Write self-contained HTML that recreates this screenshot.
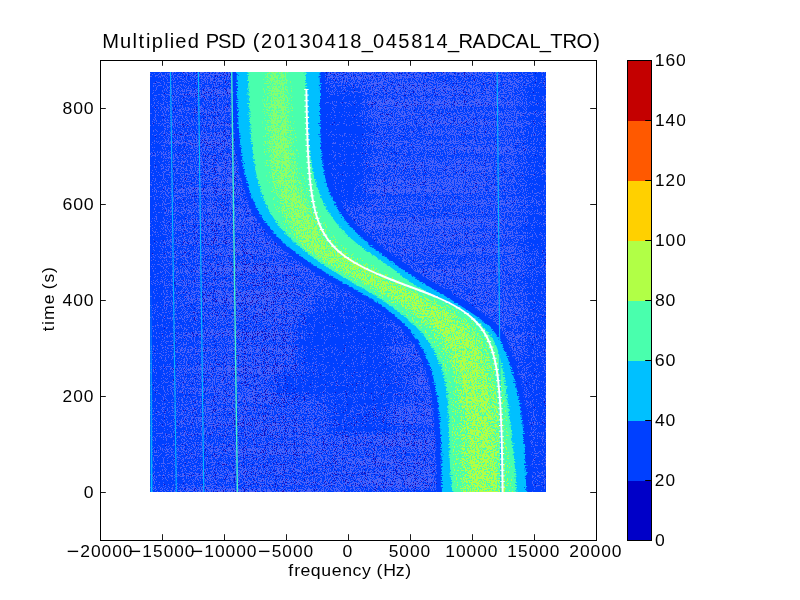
<!DOCTYPE html>
<html><head><meta charset="utf-8"><style>
html,body{margin:0;padding:0;background:#fff;}
body{width:800px;height:600px;overflow:hidden;position:relative;font-family:"Liberation Sans",sans-serif;}
svg{position:absolute;left:0;top:0;display:block;}
</style></head><body>
<svg width="800" height="600" viewBox="0 0 800 600">
<defs><clipPath id="hmclip"><rect x="150" y="72" width="396" height="420"/></clipPath><filter id="nY" x="140" y="60" width="420" height="440" filterUnits="userSpaceOnUse" color-interpolation-filters="sRGB"><feTurbulence type="fractalNoise" baseFrequency="0.9 0.6" numOctaves="2" seed="7"/><feColorMatrix type="matrix" values="0 0 0 0 0.694  0 0 0 0 1.000  0 0 0 0 0.275  4.00 0 0 0 -2.00"/><feComponentTransfer><feFuncA type="discrete" tableValues="0 1"/></feComponentTransfer></filter><filter id="nY2" x="140" y="60" width="420" height="440" filterUnits="userSpaceOnUse" color-interpolation-filters="sRGB"><feTurbulence type="fractalNoise" baseFrequency="0.9 0.6" numOctaves="2" seed="11"/><feColorMatrix type="matrix" values="0 0 0 0 0.694  0 0 0 0 1.000  0 0 0 0 0.275  4.00 0 0 0 -1.70"/><feComponentTransfer><feFuncA type="discrete" tableValues="0 1"/></feComponentTransfer></filter><filter id="nY3" x="140" y="60" width="420" height="440" filterUnits="userSpaceOnUse" color-interpolation-filters="sRGB"><feTurbulence type="fractalNoise" baseFrequency="0.9 0.6" numOctaves="2" seed="13"/><feColorMatrix type="matrix" values="0 0 0 0 0.694  0 0 0 0 1.000  0 0 0 0 0.275  4.00 0 0 0 -1.55"/><feComponentTransfer><feFuncA type="discrete" tableValues="0 1"/></feComponentTransfer></filter><filter id="dL" x="140" y="60" width="420" height="440" filterUnits="userSpaceOnUse" color-interpolation-filters="sRGB"><feGaussianBlur in="SourceGraphic" stdDeviation="7.0" result="d"/><feTurbulence type="fractalNoise" baseFrequency="0.9 0.9" numOctaves="1" seed="4"/><feColorMatrix type="matrix" values="1 0 0 0 0  1 0 0 0 0  1 0 0 0 0  0 0 0 0 1" result="a"/><feTurbulence type="fractalNoise" baseFrequency="0.006 0.15" numOctaves="2" seed="8"/><feColorMatrix type="matrix" values="1 0 0 0 0  1 0 0 0 0  1 0 0 0 0  0 0 0 0 1" result="s"/><feComposite in="a" in2="s" operator="arithmetic" k1="0" k2="1" k3="0.200" k4="-0.100" result="as"/><feComposite in="as" in2="d" operator="arithmetic" k1="0" k2="1" k3="0.250" k4="-0.250"/><feColorMatrix type="matrix" values="0 0 0 0 0.290  0 0 0 0 0.384  0 0 0 0 0.973  4 0 0 0 -1.380"/><feComponentTransfer><feFuncA type="discrete" tableValues="0 1"/></feComponentTransfer></filter><filter id="dD" x="140" y="60" width="420" height="440" filterUnits="userSpaceOnUse" color-interpolation-filters="sRGB"><feGaussianBlur in="SourceGraphic" stdDeviation="7.0" result="d"/><feTurbulence type="fractalNoise" baseFrequency="0.9 0.9" numOctaves="1" seed="9"/><feColorMatrix type="matrix" values="1 0 0 0 0  1 0 0 0 0  1 0 0 0 0  0 0 0 0 1" result="a"/><feTurbulence type="fractalNoise" baseFrequency="0.006 0.15" numOctaves="2" seed="8"/><feColorMatrix type="matrix" values="1 0 0 0 0  1 0 0 0 0  1 0 0 0 0  0 0 0 0 1" result="s"/><feComposite in="a" in2="s" operator="arithmetic" k1="0" k2="1" k3="0.150" k4="-0.075" result="as"/><feComposite in="as" in2="d" operator="arithmetic" k1="0" k2="1" k3="0.130" k4="-0.130"/><feColorMatrix type="matrix" values="0 0 0 0 0.098  0 0 0 0 0.059  0 0 0 0 0.725  4 0 0 0 -2.050"/><feComponentTransfer><feFuncA type="discrete" tableValues="0 1"/></feComponentTransfer></filter><filter id="blur8" x="-50%" y="-50%" width="200%" height="200%"><feGaussianBlur stdDeviation="7"/></filter><filter id="jag" x="140" y="60" width="420" height="440" filterUnits="userSpaceOnUse" color-interpolation-filters="sRGB"><feTurbulence type="fractalNoise" baseFrequency="0.35 0.9" numOctaves="2" seed="5"/><feColorMatrix type="matrix" values="1 0 0 0 0  0 0 0 0 0.5  0 0 0 0 0  0 0 0 0 1"/><feGaussianBlur stdDeviation="0.01"/><feDisplacementMap in="SourceGraphic" scale="6" xChannelSelector="R" yChannelSelector="G"/></filter><linearGradient id="ygrad" gradientUnits="userSpaceOnUse" x1="0" y1="72" x2="0" y2="492"><stop offset="0" stop-color="#8c8c8c"/><stop offset="0.3" stop-color="#c0c0c0"/><stop offset="0.55" stop-color="#ffffff"/><stop offset="1" stop-color="#ffffff"/></linearGradient><mask id="ymask" maskUnits="userSpaceOnUse" x="140" y="60" width="420" height="440"><rect x="140" y="60" width="420" height="440" fill="url(#ygrad)"/></mask><clipPath id="yc0"><path d="M262.9 60.0 L262.8 62.0 L262.8 64.0 L262.8 66.0 L262.8 68.0 L262.8 70.0 L262.8 72.0 L262.8 74.0 L262.8 76.0 L262.8 78.0 L262.7 80.0 L262.7 82.0 L262.7 84.0 L262.7 86.0 L262.6 88.0 L262.6 90.0 L262.6 92.0 L262.6 94.0 L262.5 96.0 L262.5 98.0 L262.5 100.0 L262.5 102.0 L262.5 104.0 L262.5 106.0 L262.4 108.0 L262.4 110.0 L262.4 112.0 L262.4 114.0 L262.4 116.0 L262.4 118.0 L262.5 120.0 L262.5 122.0 L262.5 124.0 L262.5 126.0 L262.6 128.0 L262.6 130.0 L262.6 132.0 L262.7 134.0 L262.8 136.0 L262.8 138.0 L262.9 140.0 L263.0 142.0 L263.1 144.0 L263.2 146.0 L263.3 148.0 L263.4 150.0 L263.6 152.0 L263.7 154.0 L263.9 156.0 L264.1 158.0 L264.3 160.0 L264.5 162.0 L264.7 164.0 L265.0 166.0 L265.2 168.0 L265.5 170.0 L265.8 172.0 L266.2 174.0 L266.5 176.0 L266.9 178.0 L267.3 180.0 L267.7 182.0 L268.1 184.0 L268.6 186.0 L269.1 188.0 L269.6 190.0 L270.2 192.0 L270.7 194.0 L271.3 196.0 L271.9 198.0 L272.6 200.0 L273.3 202.0 L273.9 204.0 L274.6 206.0 L275.4 208.0 L276.1 210.0 L276.9 212.0 L277.6 214.0 L278.4 216.0 L279.2 218.0 L280.0 220.0 L280.8 222.0 L281.6 224.0 L282.5 226.0 L283.8 228.0 L285.5 230.0 L287.2 232.0 L289.0 234.0 L290.9 236.0 L292.9 238.0 L294.9 240.0 L297.0 242.0 L299.2 244.0 L301.5 246.0 L303.9 248.0 L306.3 250.0 L308.9 252.0 L311.5 254.0 L314.2 256.0 L316.9 258.0 L319.8 260.0 L322.7 262.0 L325.6 264.0 L328.6 266.0 L331.7 268.0 L334.8 270.0 L338.0 272.0 L341.2 274.0 L344.4 276.0 L347.6 278.0 L350.9 280.0 L354.3 282.0 L357.8 284.0 L361.4 286.0 L364.9 288.0 L368.4 290.0 L371.8 292.0 L375.2 294.0 L378.5 296.0 L381.8 298.0 L385.0 300.0 L388.1 302.0 L391.1 304.0 L394.0 306.0 L396.8 308.0 L399.5 310.0 L402.1 312.0 L404.6 314.0 L407.1 316.0 L409.5 318.0 L411.8 320.0 L414.0 322.0 L416.1 324.0 L418.2 326.0 L420.1 328.0 L422.0 330.0 L423.8 332.0 L425.5 334.0 L427.1 336.0 L428.7 338.0 L430.2 340.0 L431.6 342.0 L432.9 344.0 L434.2 346.0 L435.5 348.0 L436.6 350.0 L437.7 352.0 L438.7 354.0 L439.7 356.0 L440.6 358.0 L441.5 360.0 L442.3 362.0 L443.1 364.0 L443.8 366.0 L444.5 368.0 L445.1 370.0 L445.7 372.0 L446.2 374.0 L446.7 376.0 L447.2 378.0 L447.7 380.0 L448.1 382.0 L448.4 384.0 L448.8 386.0 L449.1 388.0 L449.4 390.0 L449.7 392.0 L449.9 394.0 L450.2 396.0 L450.4 398.0 L450.6 400.0 L450.7 402.0 L450.9 404.0 L451.0 406.0 L451.2 408.0 L451.3 410.0 L451.4 412.0 L451.5 414.0 L451.6 416.0 L451.7 418.0 L451.7 420.0 L451.8 422.0 L451.8 424.0 L451.9 426.0 L451.9 428.0 L452.0 430.0 L452.0 432.0 L452.1 434.0 L452.1 436.0 L452.1 438.0 L452.2 440.0 L452.2 442.0 L452.3 444.0 L452.3 446.0 L452.3 448.0 L452.4 450.0 L452.5 452.0 L452.5 454.0 L452.6 456.0 L452.7 458.0 L452.7 460.0 L452.8 462.0 L452.9 464.0 L453.0 466.0 L453.1 468.0 L453.3 470.0 L453.4 472.0 L453.5 474.0 L453.7 476.0 L453.9 478.0 L454.1 480.0 L454.3 482.0 L454.5 484.0 L454.7 486.0 L454.9 488.0 L455.2 490.0 L455.5 492.0 L455.4 494.0 L455.4 496.0 L455.4 498.0 L455.3 500.0 L455.3 502.0 L455.3 504.0 L513.2 504.0 L513.3 502.0 L513.3 500.0 L513.3 498.0 L513.3 496.0 L513.3 494.0 L513.3 492.0 L513.3 490.0 L513.2 488.0 L513.1 486.0 L513.0 484.0 L512.9 482.0 L512.8 480.0 L512.6 478.0 L512.5 476.0 L512.4 474.0 L512.2 472.0 L512.1 470.0 L511.9 468.0 L511.8 466.0 L511.6 464.0 L511.4 462.0 L511.2 460.0 L511.1 458.0 L510.9 456.0 L510.7 454.0 L510.5 452.0 L510.3 450.0 L510.1 448.0 L509.9 446.0 L509.7 444.0 L509.4 442.0 L509.2 440.0 L509.0 438.0 L508.8 436.0 L508.6 434.0 L508.3 432.0 L508.1 430.0 L507.9 428.0 L507.6 426.0 L507.4 424.0 L507.2 422.0 L506.9 420.0 L506.7 418.0 L506.5 416.0 L506.2 414.0 L506.0 412.0 L505.7 410.0 L505.5 408.0 L505.2 406.0 L505.0 404.0 L504.7 402.0 L504.4 400.0 L504.2 398.0 L503.9 396.0 L503.6 394.0 L503.3 392.0 L503.1 390.0 L502.8 388.0 L502.5 386.0 L502.2 384.0 L501.9 382.0 L501.6 380.0 L501.2 378.0 L500.9 376.0 L500.5 374.0 L500.2 372.0 L499.8 370.0 L499.4 368.0 L499.0 366.0 L498.6 364.0 L498.1 362.0 L497.7 360.0 L497.2 358.0 L496.7 356.0 L496.1 354.0 L495.5 352.0 L494.8 350.0 L494.1 348.0 L493.3 346.0 L492.4 344.0 L491.4 342.0 L490.4 340.0 L489.2 338.0 L487.9 336.0 L486.4 334.0 L484.9 332.0 L483.1 330.0 L481.3 328.0 L479.2 326.0 L477.0 324.0 L474.6 322.0 L472.0 320.0 L469.3 318.0 L466.4 316.0 L463.2 314.0 L460.0 312.0 L456.6 310.0 L453.1 308.0 L449.5 306.0 L445.8 304.0 L442.0 302.0 L438.1 300.0 L434.2 298.0 L430.3 296.0 L426.3 294.0 L422.3 292.0 L418.3 290.0 L414.3 288.0 L410.3 286.0 L406.3 284.0 L402.3 282.0 L398.7 280.0 L395.5 278.0 L392.2 276.0 L388.9 274.0 L385.5 272.0 L382.0 270.0 L378.4 268.0 L374.8 266.0 L371.2 264.0 L367.6 262.0 L364.1 260.0 L360.6 258.0 L357.4 256.0 L354.2 254.0 L351.3 252.0 L348.5 250.0 L345.9 248.0 L343.5 246.0 L341.3 244.0 L339.2 242.0 L337.3 240.0 L335.6 238.0 L333.9 236.0 L332.4 234.0 L331.0 232.0 L329.6 230.0 L328.3 228.0 L327.1 226.0 L325.9 224.0 L324.8 222.0 L323.6 220.0 L322.5 218.0 L321.4 216.0 L320.3 214.0 L319.3 212.0 L318.3 210.0 L317.2 208.0 L316.2 206.0 L315.2 204.0 L314.3 202.0 L313.3 200.0 L312.4 198.0 L311.6 196.0 L310.7 194.0 L309.9 192.0 L309.1 190.0 L308.3 188.0 L307.6 186.0 L306.9 184.0 L306.2 182.0 L305.5 180.0 L304.9 178.0 L304.3 176.0 L303.7 174.0 L303.2 172.0 L302.6 170.0 L302.1 168.0 L301.6 166.0 L301.2 164.0 L300.7 162.0 L300.3 160.0 L299.9 158.0 L299.5 156.0 L299.1 154.0 L298.8 152.0 L298.4 150.0 L298.1 148.0 L297.8 146.0 L297.5 144.0 L297.2 142.0 L296.9 140.0 L296.6 138.0 L296.4 136.0 L296.1 134.0 L295.9 132.0 L295.6 130.0 L295.4 128.0 L295.2 126.0 L295.0 124.0 L294.8 122.0 L294.6 120.0 L294.4 118.0 L294.2 116.0 L294.0 114.0 L293.8 112.0 L293.6 110.0 L293.5 108.0 L293.3 106.0 L293.1 104.0 L293.0 102.0 L292.8 100.0 L292.6 98.0 L292.5 96.0 L292.3 94.0 L292.1 92.0 L292.0 90.0 L291.8 88.0 L291.7 86.0 L291.5 84.0 L291.3 82.0 L291.2 80.0 L291.0 78.0 L290.8 76.0 L290.7 74.0 L290.5 72.0 L290.5 70.0 L290.5 68.0 L290.4 66.0 L290.4 64.0 L290.4 62.0 L290.4 60.0 Z"/></clipPath><clipPath id="yc1"><path d="M266.9 60.0 L266.9 62.0 L266.9 64.0 L266.9 66.0 L266.9 68.0 L266.9 70.0 L266.9 72.0 L266.9 74.0 L266.9 76.0 L266.9 78.0 L266.9 80.0 L266.9 82.0 L266.9 84.0 L266.9 86.0 L266.9 88.0 L266.9 90.0 L266.9 92.0 L266.9 94.0 L266.9 96.0 L267.0 98.0 L267.0 100.0 L267.0 102.0 L267.0 104.0 L267.0 106.0 L267.0 108.0 L267.0 110.0 L267.0 112.0 L267.1 114.0 L267.1 116.0 L267.1 118.0 L267.2 120.0 L267.2 122.0 L267.3 124.0 L267.3 126.0 L267.4 128.0 L267.5 130.0 L267.5 132.0 L267.6 134.0 L267.7 136.0 L267.8 138.0 L267.9 140.0 L268.0 142.0 L268.1 144.0 L268.3 146.0 L268.4 148.0 L268.6 150.0 L268.8 152.0 L268.9 154.0 L269.1 156.0 L269.4 158.0 L269.6 160.0 L269.8 162.0 L270.1 164.0 L270.4 166.0 L270.7 168.0 L271.0 170.0 L271.3 172.0 L271.7 174.0 L272.1 176.0 L272.5 178.0 L272.9 180.0 L273.3 182.0 L273.8 184.0 L274.3 186.0 L274.9 188.0 L275.4 190.0 L276.0 192.0 L276.6 194.0 L277.2 196.0 L277.9 198.0 L278.6 200.0 L279.3 202.0 L280.0 204.0 L280.8 206.0 L281.5 208.0 L282.3 210.0 L283.1 212.0 L283.9 214.0 L284.7 216.0 L285.5 218.0 L286.4 220.0 L287.3 222.0 L288.1 224.0 L289.1 226.0 L290.0 228.0 L291.0 230.0 L292.0 232.0 L293.2 234.0 L294.4 236.0 L295.7 238.0 L297.1 240.0 L298.7 242.0 L300.4 244.0 L302.3 246.0 L304.3 248.0 L306.5 250.0 L309.0 252.0 L311.6 254.0 L314.3 256.0 L317.3 258.0 L320.4 260.0 L323.7 262.0 L327.1 264.0 L330.6 266.0 L334.2 268.0 L337.9 270.0 L341.5 272.0 L345.2 274.0 L348.9 276.0 L352.5 278.0 L356.1 280.0 L359.9 282.0 L363.8 284.0 L367.7 286.0 L371.5 288.0 L375.3 290.0 L379.0 292.0 L382.5 294.0 L386.1 296.0 L389.5 298.0 L392.8 300.0 L396.0 302.0 L399.1 304.0 L402.2 306.0 L405.1 308.0 L407.9 310.0 L410.6 312.0 L413.3 314.0 L415.8 316.0 L418.2 318.0 L420.5 320.0 L422.7 322.0 L424.9 324.0 L427.0 326.0 L428.9 328.0 L430.8 330.0 L432.6 332.0 L434.3 334.0 L435.9 336.0 L437.4 338.0 L438.8 340.0 L440.2 342.0 L441.5 344.0 L442.7 346.0 L443.8 348.0 L444.9 350.0 L445.9 352.0 L446.9 354.0 L447.8 356.0 L448.7 358.0 L449.5 360.0 L450.2 362.0 L450.9 364.0 L451.6 366.0 L452.2 368.0 L452.8 370.0 L453.3 372.0 L453.9 374.0 L454.3 376.0 L454.8 378.0 L455.2 380.0 L455.6 382.0 L456.0 384.0 L456.3 386.0 L456.6 388.0 L456.9 390.0 L457.2 392.0 L457.4 394.0 L457.7 396.0 L457.9 398.0 L458.1 400.0 L458.3 402.0 L458.5 404.0 L458.6 406.0 L458.8 408.0 L458.9 410.0 L459.1 412.0 L459.2 414.0 L459.3 416.0 L459.4 418.0 L459.5 420.0 L459.6 422.0 L459.7 424.0 L459.8 426.0 L459.8 428.0 L459.9 430.0 L460.0 432.0 L460.1 434.0 L460.1 436.0 L460.2 438.0 L460.3 440.0 L460.3 442.0 L460.4 444.0 L460.5 446.0 L460.6 448.0 L460.6 450.0 L460.7 452.0 L460.8 454.0 L460.9 456.0 L461.0 458.0 L461.1 460.0 L461.2 462.0 L461.3 464.0 L461.4 466.0 L461.5 468.0 L461.7 470.0 L461.8 472.0 L462.0 474.0 L462.1 476.0 L462.3 478.0 L462.4 480.0 L462.6 482.0 L462.8 484.0 L463.0 486.0 L463.2 488.0 L463.5 490.0 L463.7 492.0 L463.7 494.0 L463.6 496.0 L463.6 498.0 L463.6 500.0 L463.6 502.0 L463.5 504.0 L505.0 504.0 L505.0 502.0 L505.0 500.0 L505.0 498.0 L505.1 496.0 L505.1 494.0 L505.1 492.0 L505.0 490.0 L504.9 488.0 L504.7 486.0 L504.6 484.0 L504.5 482.0 L504.4 480.0 L504.2 478.0 L504.1 476.0 L504.0 474.0 L503.8 472.0 L503.7 470.0 L503.5 468.0 L503.4 466.0 L503.2 464.0 L503.0 462.0 L502.9 460.0 L502.7 458.0 L502.6 456.0 L502.4 454.0 L502.2 452.0 L502.0 450.0 L501.9 448.0 L501.7 446.0 L501.5 444.0 L501.3 442.0 L501.1 440.0 L500.9 438.0 L500.8 436.0 L500.6 434.0 L500.4 432.0 L500.2 430.0 L500.0 428.0 L499.8 426.0 L499.6 424.0 L499.4 422.0 L499.2 420.0 L499.0 418.0 L498.7 416.0 L498.5 414.0 L498.3 412.0 L498.1 410.0 L497.9 408.0 L497.6 406.0 L497.4 404.0 L497.1 402.0 L496.9 400.0 L496.6 398.0 L496.4 396.0 L496.1 394.0 L495.8 392.0 L495.6 390.0 L495.3 388.0 L495.0 386.0 L494.7 384.0 L494.3 382.0 L494.0 380.0 L493.7 378.0 L493.3 376.0 L492.9 374.0 L492.5 372.0 L492.1 370.0 L491.7 368.0 L491.2 366.0 L490.8 364.0 L490.3 362.0 L489.7 360.0 L489.2 358.0 L488.6 356.0 L488.0 354.0 L487.3 352.0 L486.5 350.0 L485.7 348.0 L484.9 346.0 L483.9 344.0 L482.9 342.0 L481.7 340.0 L480.5 338.0 L479.1 336.0 L477.7 334.0 L476.1 332.0 L474.3 330.0 L472.4 328.0 L470.4 326.0 L468.2 324.0 L465.9 322.0 L463.3 320.0 L460.5 318.0 L457.6 316.0 L454.6 314.0 L451.5 312.0 L448.2 310.0 L444.8 308.0 L441.3 306.0 L437.7 304.0 L434.1 302.0 L430.3 300.0 L426.5 298.0 L422.7 296.0 L418.8 294.0 L414.8 292.0 L410.9 290.0 L406.9 288.0 L403.0 286.0 L399.0 284.0 L395.0 282.0 L391.4 280.0 L388.1 278.0 L384.8 276.0 L381.4 274.0 L377.9 272.0 L374.4 270.0 L370.8 268.0 L367.2 266.0 L363.6 264.0 L360.0 262.0 L356.5 260.0 L353.2 258.0 L349.9 256.0 L346.9 254.0 L344.0 252.0 L341.2 250.0 L338.7 248.0 L336.4 246.0 L334.2 244.0 L332.2 242.0 L330.4 240.0 L328.7 238.0 L327.1 236.0 L325.6 234.0 L324.3 232.0 L323.0 230.0 L321.7 228.0 L320.5 226.0 L319.4 224.0 L318.3 222.0 L317.2 220.0 L316.1 218.0 L315.1 216.0 L314.1 214.0 L313.0 212.0 L312.1 210.0 L311.1 208.0 L310.1 206.0 L309.2 204.0 L308.3 202.0 L307.4 200.0 L306.5 198.0 L305.6 196.0 L304.8 194.0 L304.0 192.0 L303.3 190.0 L302.5 188.0 L301.8 186.0 L301.2 184.0 L300.5 182.0 L299.9 180.0 L299.3 178.0 L298.7 176.0 L298.2 174.0 L297.7 172.0 L297.2 170.0 L296.7 168.0 L296.2 166.0 L295.8 164.0 L295.4 162.0 L295.0 160.0 L294.6 158.0 L294.3 156.0 L293.9 154.0 L293.6 152.0 L293.3 150.0 L293.0 148.0 L292.7 146.0 L292.4 144.0 L292.2 142.0 L291.9 140.0 L291.7 138.0 L291.4 136.0 L291.2 134.0 L291.0 132.0 L290.8 130.0 L290.6 128.0 L290.4 126.0 L290.2 124.0 L290.0 122.0 L289.9 120.0 L289.7 118.0 L289.5 116.0 L289.4 114.0 L289.2 112.0 L289.1 110.0 L288.9 108.0 L288.8 106.0 L288.6 104.0 L288.5 102.0 L288.3 100.0 L288.2 98.0 L288.1 96.0 L287.9 94.0 L287.8 92.0 L287.7 90.0 L287.5 88.0 L287.4 86.0 L287.3 84.0 L287.1 82.0 L287.0 80.0 L286.9 78.0 L286.7 76.0 L286.6 74.0 L286.4 72.0 L286.4 70.0 L286.4 68.0 L286.4 66.0 L286.4 64.0 L286.3 62.0 L286.3 60.0 Z"/></clipPath><clipPath id="yc2"><path d="M270.5 60.0 L270.5 62.0 L270.5 64.0 L270.5 66.0 L270.5 68.0 L270.6 70.0 L270.6 72.0 L270.6 74.0 L270.6 76.0 L270.7 78.0 L270.7 80.0 L270.7 82.0 L270.7 84.0 L270.8 86.0 L270.8 88.0 L270.8 90.0 L270.9 92.0 L270.9 94.0 L270.9 96.0 L270.9 98.0 L271.0 100.0 L271.0 102.0 L271.0 104.0 L271.1 106.0 L271.1 108.0 L271.2 110.0 L271.2 112.0 L271.3 114.0 L271.3 116.0 L271.4 118.0 L271.4 120.0 L271.5 122.0 L271.6 124.0 L271.6 126.0 L271.7 128.0 L271.8 130.0 L271.9 132.0 L272.0 134.0 L272.1 136.0 L272.3 138.0 L272.4 140.0 L272.5 142.0 L272.7 144.0 L272.9 146.0 L273.0 148.0 L273.2 150.0 L273.4 152.0 L273.6 154.0 L273.9 156.0 L274.1 158.0 L274.4 160.0 L274.6 162.0 L274.9 164.0 L275.2 166.0 L275.5 168.0 L275.9 170.0 L276.3 172.0 L276.7 174.0 L277.1 176.0 L277.5 178.0 L278.0 180.0 L278.4 182.0 L278.9 184.0 L279.5 186.0 L280.0 188.0 L280.6 190.0 L281.2 192.0 L281.9 194.0 L282.6 196.0 L283.3 198.0 L284.0 200.0 L284.7 202.0 L285.5 204.0 L286.3 206.0 L287.1 208.0 L287.9 210.0 L288.7 212.0 L289.6 214.0 L290.4 216.0 L291.3 218.0 L292.2 220.0 L293.1 222.0 L294.0 224.0 L295.0 226.0 L295.9 228.0 L297.0 230.0 L298.1 232.0 L299.3 234.0 L300.5 236.0 L301.9 238.0 L303.4 240.0 L305.0 242.0 L306.7 244.0 L308.7 246.0 L310.8 248.0 L313.0 250.0 L315.5 252.0 L318.2 254.0 L321.0 256.0 L324.0 258.0 L327.2 260.0 L330.5 262.0 L333.9 264.0 L337.5 266.0 L341.1 268.0 L344.7 270.0 L348.3 272.0 L352.0 274.0 L355.6 276.0 L359.2 278.0 L362.7 280.0 L366.5 282.0 L370.4 284.0 L374.3 286.0 L378.2 288.0 L382.0 290.0 L385.7 292.0 L389.3 294.0 L392.9 296.0 L396.4 298.0 L399.8 300.0 L403.2 302.0 L406.4 304.0 L409.5 306.0 L412.5 308.0 L415.5 310.0 L418.3 312.0 L421.0 314.0 L423.6 316.0 L426.1 318.0 L428.5 320.0 L430.8 322.0 L433.0 324.0 L435.1 326.0 L437.1 328.0 L439.0 330.0 L440.7 332.0 L442.4 334.0 L444.0 336.0 L445.5 338.0 L446.9 340.0 L448.2 342.0 L449.4 344.0 L450.6 346.0 L451.7 348.0 L452.7 350.0 L453.7 352.0 L454.6 354.0 L455.4 356.0 L456.3 358.0 L457.0 360.0 L457.7 362.0 L458.4 364.0 L459.0 366.0 L459.6 368.0 L460.2 370.0 L460.7 372.0 L461.2 374.0 L461.6 376.0 L462.1 378.0 L462.5 380.0 L462.9 382.0 L463.2 384.0 L463.5 386.0 L463.9 388.0 L464.2 390.0 L464.4 392.0 L464.7 394.0 L464.9 396.0 L465.2 398.0 L465.4 400.0 L465.6 402.0 L465.8 404.0 L465.9 406.0 L466.1 408.0 L466.3 410.0 L466.4 412.0 L466.6 414.0 L466.7 416.0 L466.8 418.0 L466.9 420.0 L467.0 422.0 L467.2 424.0 L467.3 426.0 L467.4 428.0 L467.5 430.0 L467.6 432.0 L467.7 434.0 L467.7 436.0 L467.8 438.0 L467.9 440.0 L468.0 442.0 L468.1 444.0 L468.2 446.0 L468.3 448.0 L468.4 450.0 L468.5 452.0 L468.6 454.0 L468.7 456.0 L468.8 458.0 L468.9 460.0 L469.0 462.0 L469.2 464.0 L469.3 466.0 L469.4 468.0 L469.5 470.0 L469.7 472.0 L469.8 474.0 L470.0 476.0 L470.1 478.0 L470.3 480.0 L470.5 482.0 L470.7 484.0 L470.8 486.0 L471.0 488.0 L471.2 490.0 L471.5 492.0 L471.4 494.0 L471.4 496.0 L471.4 498.0 L471.4 500.0 L471.3 502.0 L471.3 504.0 L497.2 504.0 L497.2 502.0 L497.3 500.0 L497.3 498.0 L497.3 496.0 L497.3 494.0 L497.3 492.0 L497.2 490.0 L497.1 488.0 L496.9 486.0 L496.8 484.0 L496.7 482.0 L496.5 480.0 L496.4 478.0 L496.2 476.0 L496.1 474.0 L495.9 472.0 L495.8 470.0 L495.6 468.0 L495.5 466.0 L495.3 464.0 L495.2 462.0 L495.0 460.0 L494.9 458.0 L494.7 456.0 L494.6 454.0 L494.4 452.0 L494.3 450.0 L494.1 448.0 L494.0 446.0 L493.8 444.0 L493.6 442.0 L493.5 440.0 L493.3 438.0 L493.1 436.0 L493.0 434.0 L492.8 432.0 L492.6 430.0 L492.5 428.0 L492.3 426.0 L492.1 424.0 L491.9 422.0 L491.7 420.0 L491.5 418.0 L491.3 416.0 L491.1 414.0 L490.9 412.0 L490.7 410.0 L490.5 408.0 L490.3 406.0 L490.1 404.0 L489.9 402.0 L489.6 400.0 L489.4 398.0 L489.1 396.0 L488.9 394.0 L488.6 392.0 L488.3 390.0 L488.0 388.0 L487.7 386.0 L487.4 384.0 L487.1 382.0 L486.7 380.0 L486.4 378.0 L486.0 376.0 L485.6 374.0 L485.2 372.0 L484.7 370.0 L484.3 368.0 L483.8 366.0 L483.3 364.0 L482.8 362.0 L482.2 360.0 L481.6 358.0 L480.9 356.0 L480.3 354.0 L479.5 352.0 L478.7 350.0 L477.9 348.0 L476.9 346.0 L475.9 344.0 L474.9 342.0 L473.7 340.0 L472.4 338.0 L471.0 336.0 L469.5 334.0 L467.9 332.0 L466.2 330.0 L464.3 328.0 L462.3 326.0 L460.1 324.0 L457.8 322.0 L455.2 320.0 L452.6 318.0 L449.8 316.0 L446.9 314.0 L443.8 312.0 L440.6 310.0 L437.4 308.0 L434.0 306.0 L430.5 304.0 L426.9 302.0 L423.3 300.0 L419.6 298.0 L415.8 296.0 L412.0 294.0 L408.1 292.0 L404.2 290.0 L400.3 288.0 L396.4 286.0 L392.4 284.0 L388.4 282.0 L384.8 280.0 L381.4 278.0 L378.0 276.0 L374.6 274.0 L371.1 272.0 L367.5 270.0 L363.9 268.0 L360.3 266.0 L356.7 264.0 L353.2 262.0 L349.8 260.0 L346.4 258.0 L343.3 256.0 L340.2 254.0 L337.4 252.0 L334.7 250.0 L332.3 248.0 L330.0 246.0 L327.9 244.0 L325.9 242.0 L324.1 240.0 L322.5 238.0 L321.0 236.0 L319.6 234.0 L318.2 232.0 L317.0 230.0 L315.8 228.0 L314.6 226.0 L313.5 224.0 L312.5 222.0 L311.4 220.0 L310.4 218.0 L309.4 216.0 L308.4 214.0 L307.4 212.0 L306.5 210.0 L305.5 208.0 L304.6 206.0 L303.7 204.0 L302.8 202.0 L302.0 200.0 L301.1 198.0 L300.3 196.0 L299.5 194.0 L298.8 192.0 L298.0 190.0 L297.3 188.0 L296.7 186.0 L296.0 184.0 L295.4 182.0 L294.8 180.0 L294.3 178.0 L293.7 176.0 L293.2 174.0 L292.7 172.0 L292.3 170.0 L291.8 168.0 L291.4 166.0 L291.0 164.0 L290.6 162.0 L290.2 160.0 L289.9 158.0 L289.6 156.0 L289.2 154.0 L288.9 152.0 L288.7 150.0 L288.4 148.0 L288.1 146.0 L287.9 144.0 L287.6 142.0 L287.4 140.0 L287.2 138.0 L287.0 136.0 L286.8 134.0 L286.6 132.0 L286.4 130.0 L286.2 128.0 L286.1 126.0 L285.9 124.0 L285.7 122.0 L285.6 120.0 L285.5 118.0 L285.3 116.0 L285.2 114.0 L285.1 112.0 L284.9 110.0 L284.8 108.0 L284.7 106.0 L284.6 104.0 L284.4 102.0 L284.3 100.0 L284.2 98.0 L284.1 96.0 L284.0 94.0 L283.9 92.0 L283.8 90.0 L283.7 88.0 L283.6 86.0 L283.5 84.0 L283.3 82.0 L283.2 80.0 L283.1 78.0 L283.0 76.0 L282.9 74.0 L282.8 72.0 L282.8 70.0 L282.7 68.0 L282.7 66.0 L282.7 64.0 L282.7 62.0 L282.7 60.0 Z"/></clipPath><linearGradient id="lg0" gradientUnits="userSpaceOnUse" x1="0" y1="280" x2="0" y2="492"><stop offset="0" stop-color="#00c0ff" stop-opacity="0"/><stop offset="0.4" stop-color="#00c0ff" stop-opacity="0.6"/><stop offset="1" stop-color="#00c0ff" stop-opacity="1"/></linearGradient></defs>
<g clip-path="url(#hmclip)"><rect x="150" y="72" width="396" height="420" fill="#0040ff"/><g filter="url(#dL)"><rect x="140" y="60" width="420" height="440" fill="#dbdbdb"/><rect x="140" y="60" width="20" height="440" fill="#4c4c4c"/><rect x="160" y="60" width="40" height="440" fill="#b8b8b8"/><rect x="150" y="310" width="24" height="190" fill="#808080"/><rect x="200" y="60" width="40" height="440" fill="#d9d9d9"/><path d="M236 240 L300 280 L300 500 L236 500 Z" fill="#ebebeb"/><rect x="295" y="418" width="135" height="80" fill="#e0e0e0"/><ellipse cx="345" cy="340" rx="48" ry="42" fill="#595959"/><rect x="278" y="370" width="130" height="28" fill="#737373"/><rect x="330" y="398" width="60" height="34" fill="#737373"/><rect x="323" y="90" width="42" height="115" fill="#474747"/><rect x="525" y="60" width="35" height="440" fill="#808080"/></g><g filter="url(#dD)"><rect x="140" y="60" width="420" height="440" fill="#737373"/><rect x="140" y="60" width="30" height="440" fill="#1a1a1a"/><rect x="200" y="60" width="40" height="440" fill="#b2b2b2"/><path d="M236 240 L300 280 L300 500 L236 500 Z" fill="#f2f2f2"/><rect x="295" y="418" width="135" height="80" fill="#bfbfbf"/><ellipse cx="345" cy="340" rx="48" ry="42" fill="#1a1a1a"/><rect x="323" y="90" width="42" height="115" fill="#1a1a1a"/><rect x="500" y="60" width="60" height="440" fill="#333333"/></g><g filter="url(#jag)"><path d="M231.1 60.0 L231.1 62.0 L231.1 64.0 L231.1 66.0 L231.1 68.0 L231.1 70.0 L231.2 72.0 L231.2 74.0 L231.2 76.0 L231.2 78.0 L231.3 80.0 L231.3 82.0 L231.4 84.0 L231.4 86.0 L231.5 88.0 L231.5 90.0 L231.6 92.0 L231.6 94.0 L231.7 96.0 L231.7 98.0 L231.8 100.0 L231.9 102.0 L232.0 104.0 L232.0 106.0 L232.1 108.0 L232.2 110.0 L232.3 112.0 L232.4 114.0 L232.5 116.0 L232.6 118.0 L232.8 120.0 L232.9 122.0 L233.0 124.0 L233.2 126.0 L233.3 128.0 L233.4 130.0 L233.6 132.0 L233.8 134.0 L234.0 136.0 L234.1 138.0 L234.3 140.0 L234.5 142.0 L234.7 144.0 L235.0 146.0 L235.2 148.0 L235.4 150.0 L235.7 152.0 L236.0 154.0 L236.2 156.0 L236.5 158.0 L236.8 160.0 L237.2 162.0 L237.5 164.0 L237.9 166.0 L238.2 168.0 L238.6 170.0 L239.0 172.0 L239.4 174.0 L239.9 176.0 L240.4 178.0 L240.8 180.0 L241.4 182.0 L241.9 184.0 L242.4 186.0 L243.0 188.0 L243.6 190.0 L244.3 192.0 L245.0 194.0 L245.7 196.0 L246.4 198.0 L247.2 200.0 L248.0 202.0 L248.8 204.0 L249.7 206.0 L250.7 208.0 L251.6 210.0 L252.6 212.0 L253.7 214.0 L254.8 216.0 L256.0 218.0 L257.2 220.0 L258.5 222.0 L259.8 224.0 L261.2 226.0 L262.7 228.0 L264.2 230.0 L265.8 232.0 L267.4 234.0 L269.2 236.0 L271.0 238.0 L272.9 240.0 L274.8 242.0 L276.9 244.0 L279.0 246.0 L281.2 248.0 L283.5 250.0 L285.9 252.0 L288.4 254.0 L290.9 256.0 L293.6 258.0 L296.3 260.0 L299.1 262.0 L302.0 264.0 L304.9 266.0 L308.0 268.0 L311.1 270.0 L314.2 272.0 L317.5 274.0 L320.7 276.0 L324.0 278.0 L327.4 280.0 L330.2 282.0 L333.9 284.0 L337.6 286.0 L341.3 288.0 L345.0 290.0 L348.7 292.0 L352.3 294.0 L355.9 296.0 L359.4 298.0 L362.8 300.0 L366.1 302.0 L369.4 304.0 L372.6 306.0 L375.7 308.0 L378.6 310.0 L381.5 312.0 L384.3 314.0 L386.9 316.0 L389.4 318.0 L391.9 320.0 L394.2 322.0 L396.4 324.0 L398.5 326.0 L400.5 328.0 L402.5 330.0 L404.3 332.0 L406.0 334.0 L407.6 336.0 L409.2 338.0 L410.7 340.0 L412.1 342.0 L413.4 344.0 L414.6 346.0 L415.8 348.0 L416.9 350.0 L418.0 352.0 L419.0 354.0 L420.0 356.0 L420.9 358.0 L421.7 360.0 L422.5 362.0 L423.3 364.0 L424.0 366.0 L424.7 368.0 L425.4 370.0 L426.0 372.0 L426.6 374.0 L427.1 376.0 L427.6 378.0 L428.1 380.0 L428.6 382.0 L429.1 384.0 L429.5 386.0 L429.9 388.0 L430.3 390.0 L430.6 392.0 L431.0 394.0 L431.3 396.0 L431.6 398.0 L431.9 400.0 L432.2 402.0 L432.4 404.0 L432.7 406.0 L432.9 408.0 L433.2 410.0 L433.4 412.0 L433.6 414.0 L433.8 416.0 L433.9 418.0 L434.1 420.0 L434.3 422.0 L434.4 424.0 L434.6 426.0 L434.7 428.0 L434.8 430.0 L435.0 432.0 L435.1 434.0 L435.2 436.0 L435.3 438.0 L435.4 440.0 L435.5 442.0 L435.6 444.0 L435.6 446.0 L435.7 448.0 L435.8 450.0 L435.8 452.0 L435.9 454.0 L436.0 456.0 L436.0 458.0 L436.1 460.0 L436.1 462.0 L436.1 464.0 L436.2 466.0 L436.2 468.0 L436.2 470.0 L436.3 472.0 L436.3 474.0 L436.3 476.0 L436.3 478.0 L436.3 480.0 L436.4 482.0 L436.4 484.0 L436.4 486.0 L436.4 488.0 L436.4 490.0 L436.4 492.0 L436.4 494.0 L436.4 496.0 L436.4 498.0 L436.4 500.0 L436.3 502.0 L436.3 504.0 L532.0 504.0 L532.0 502.0 L532.1 500.0 L532.1 498.0 L532.1 496.0 L532.2 494.0 L532.2 492.0 L532.2 490.0 L532.1 488.0 L532.1 486.0 L532.1 484.0 L532.0 482.0 L532.0 480.0 L531.9 478.0 L531.9 476.0 L531.8 474.0 L531.8 472.0 L531.7 470.0 L531.6 468.0 L531.5 466.0 L531.4 464.0 L531.4 462.0 L531.3 460.0 L531.2 458.0 L531.1 456.0 L530.9 454.0 L530.8 452.0 L530.7 450.0 L530.6 448.0 L530.4 446.0 L530.3 444.0 L530.1 442.0 L530.0 440.0 L529.8 438.0 L529.6 436.0 L529.5 434.0 L529.3 432.0 L529.1 430.0 L528.9 428.0 L528.7 426.0 L528.5 424.0 L528.2 422.0 L528.0 420.0 L527.8 418.0 L527.5 416.0 L527.3 414.0 L527.0 412.0 L526.7 410.0 L526.4 408.0 L526.1 406.0 L525.8 404.0 L525.4 402.0 L525.1 400.0 L524.7 398.0 L524.3 396.0 L523.9 394.0 L523.5 392.0 L523.1 390.0 L522.7 388.0 L522.2 386.0 L521.7 384.0 L521.2 382.0 L520.7 380.0 L520.2 378.0 L519.6 376.0 L519.1 374.0 L518.5 372.0 L517.9 370.0 L517.3 368.0 L516.7 366.0 L516.0 364.0 L515.4 362.0 L514.7 360.0 L514.0 358.0 L513.3 356.0 L512.6 354.0 L511.8 352.0 L511.1 350.0 L510.3 348.0 L509.5 346.0 L508.6 344.0 L507.7 342.0 L506.7 340.0 L505.7 338.0 L504.6 336.0 L503.4 334.0 L502.1 332.0 L500.7 330.0 L499.2 328.0 L497.5 326.0 L495.7 324.0 L493.7 322.0 L491.5 320.0 L489.0 318.0 L486.5 316.0 L483.7 314.0 L480.9 312.0 L478.0 310.0 L475.1 308.0 L472.2 306.0 L469.1 304.0 L466.1 302.0 L463.0 300.0 L459.8 298.0 L456.6 296.0 L453.3 294.0 L450.0 292.0 L446.7 290.0 L443.4 288.0 L440.0 286.0 L436.6 284.0 L433.2 282.0 L429.2 280.0 L426.1 278.0 L423.1 276.0 L420.0 274.0 L417.0 272.0 L414.0 270.0 L411.1 268.0 L408.1 266.0 L405.2 264.0 L402.3 262.0 L399.5 260.0 L396.7 258.0 L393.9 256.0 L391.2 254.0 L388.5 252.0 L385.9 250.0 L383.2 248.0 L380.7 246.0 L378.1 244.0 L375.7 242.0 L373.2 240.0 L370.9 238.0 L368.6 236.0 L366.4 234.0 L364.2 232.0 L362.1 230.0 L360.1 228.0 L358.1 226.0 L356.2 224.0 L354.4 222.0 L352.7 220.0 L351.1 218.0 L349.5 216.0 L348.0 214.0 L346.6 212.0 L345.2 210.0 L344.0 208.0 L342.7 206.0 L341.6 204.0 L340.5 202.0 L339.5 200.0 L338.5 198.0 L337.6 196.0 L336.8 194.0 L336.0 192.0 L335.2 190.0 L334.5 188.0 L333.8 186.0 L333.2 184.0 L332.6 182.0 L332.0 180.0 L331.5 178.0 L331.0 176.0 L330.6 174.0 L330.2 172.0 L329.8 170.0 L329.4 168.0 L329.1 166.0 L328.8 164.0 L328.5 162.0 L328.2 160.0 L328.0 158.0 L327.7 156.0 L327.5 154.0 L327.3 152.0 L327.2 150.0 L327.0 148.0 L326.9 146.0 L326.8 144.0 L326.7 142.0 L326.6 140.0 L326.5 138.0 L326.4 136.0 L326.3 134.0 L326.3 132.0 L326.2 130.0 L326.2 128.0 L326.1 126.0 L326.1 124.0 L326.1 122.0 L326.1 120.0 L326.1 118.0 L326.1 116.0 L326.0 114.0 L326.0 112.0 L326.0 110.0 L326.0 108.0 L326.0 106.0 L326.0 104.0 L326.0 102.0 L326.0 100.0 L326.0 98.0 L326.0 96.0 L326.0 94.0 L326.0 92.0 L325.9 90.0 L325.9 88.0 L325.9 86.0 L325.9 84.0 L325.8 82.0 L325.8 80.0 L325.7 78.0 L325.7 76.0 L325.6 74.0 L325.5 72.0 L325.5 70.0 L325.5 68.0 L325.5 66.0 L325.5 64.0 L325.5 62.0 L325.6 60.0 Z" fill="#0040ff"/><path d="M236.6 60.0 L236.6 62.0 L236.6 64.0 L236.6 66.0 L236.6 68.0 L236.6 70.0 L236.7 72.0 L236.7 74.0 L236.7 76.0 L236.7 78.0 L236.8 80.0 L236.8 82.0 L236.9 84.0 L236.9 86.0 L237.0 88.0 L237.0 90.0 L237.1 92.0 L237.1 94.0 L237.2 96.0 L237.3 98.0 L237.3 100.0 L237.4 102.0 L237.5 104.0 L237.6 106.0 L237.6 108.0 L237.7 110.0 L237.8 112.0 L237.9 114.0 L238.0 116.0 L238.2 118.0 L238.3 120.0 L238.4 122.0 L238.5 124.0 L238.7 126.0 L238.8 128.0 L239.0 130.0 L239.1 132.0 L239.3 134.0 L239.5 136.0 L239.7 138.0 L239.9 140.0 L240.1 142.0 L240.3 144.0 L240.5 146.0 L240.7 148.0 L241.0 150.0 L241.2 152.0 L241.5 154.0 L241.8 156.0 L242.1 158.0 L242.4 160.0 L242.7 162.0 L243.1 164.0 L243.4 166.0 L243.8 168.0 L244.2 170.0 L244.6 172.0 L245.1 174.0 L245.5 176.0 L246.0 178.0 L246.5 180.0 L247.1 182.0 L247.6 184.0 L248.2 186.0 L248.8 188.0 L249.4 190.0 L250.1 192.0 L250.8 194.0 L251.6 196.0 L252.3 198.0 L253.1 200.0 L254.0 202.0 L254.9 204.0 L255.8 206.0 L256.8 208.0 L257.9 210.0 L258.9 212.0 L260.1 214.0 L261.3 216.0 L262.5 218.0 L263.8 220.0 L265.2 222.0 L266.7 224.0 L268.2 226.0 L269.7 228.0 L271.4 230.0 L273.1 232.0 L274.9 234.0 L276.8 236.0 L278.8 238.0 L280.8 240.0 L283.0 242.0 L285.2 244.0 L287.5 246.0 L289.9 248.0 L292.4 250.0 L294.9 252.0 L297.6 254.0 L300.3 256.0 L303.1 258.0 L306.0 260.0 L309.0 262.0 L312.1 264.0 L315.2 266.0 L318.3 268.0 L321.5 270.0 L324.8 272.0 L328.1 274.0 L331.4 276.0 L334.8 278.0 L338.1 280.0 L341.7 282.0 L345.4 284.0 L349.0 286.0 L352.6 288.0 L356.2 290.0 L359.7 292.0 L363.2 294.0 L366.6 296.0 L369.9 298.0 L373.1 300.0 L376.3 302.0 L379.3 304.0 L382.3 306.0 L385.1 308.0 L387.8 310.0 L390.5 312.0 L393.0 314.0 L395.4 316.0 L397.8 318.0 L400.0 320.0 L402.1 322.0 L404.2 324.0 L406.1 326.0 L407.9 328.0 L409.7 330.0 L411.4 332.0 L413.0 334.0 L414.5 336.0 L415.9 338.0 L417.3 340.0 L418.6 342.0 L419.8 344.0 L421.0 346.0 L422.1 348.0 L423.1 350.0 L424.1 352.0 L425.1 354.0 L426.0 356.0 L426.8 358.0 L427.6 360.0 L428.4 362.0 L429.1 364.0 L429.8 366.0 L430.5 368.0 L431.1 370.0 L431.7 372.0 L432.3 374.0 L432.8 376.0 L433.3 378.0 L433.8 380.0 L434.3 382.0 L434.7 384.0 L435.1 386.0 L435.5 388.0 L435.9 390.0 L436.2 392.0 L436.6 394.0 L436.9 396.0 L437.2 398.0 L437.5 400.0 L437.7 402.0 L438.0 404.0 L438.2 406.0 L438.5 408.0 L438.7 410.0 L438.9 412.0 L439.1 414.0 L439.3 416.0 L439.5 418.0 L439.6 420.0 L439.8 422.0 L439.9 424.0 L440.1 426.0 L440.2 428.0 L440.3 430.0 L440.5 432.0 L440.6 434.0 L440.7 436.0 L440.8 438.0 L440.9 440.0 L441.0 442.0 L441.1 444.0 L441.1 446.0 L441.2 448.0 L441.3 450.0 L441.3 452.0 L441.4 454.0 L441.5 456.0 L441.5 458.0 L441.6 460.0 L441.6 462.0 L441.6 464.0 L441.7 466.0 L441.7 468.0 L441.7 470.0 L441.8 472.0 L441.8 474.0 L441.8 476.0 L441.8 478.0 L441.8 480.0 L441.9 482.0 L441.9 484.0 L441.9 486.0 L441.9 488.0 L441.9 490.0 L441.9 492.0 L441.9 494.0 L441.9 496.0 L441.9 498.0 L441.9 500.0 L441.8 502.0 L441.8 504.0 L526.0 504.0 L526.0 502.0 L526.1 500.0 L526.1 498.0 L526.1 496.0 L526.2 494.0 L526.2 492.0 L526.2 490.0 L526.1 488.0 L526.1 486.0 L526.1 484.0 L526.0 482.0 L526.0 480.0 L525.9 478.0 L525.9 476.0 L525.8 474.0 L525.8 472.0 L525.7 470.0 L525.6 468.0 L525.5 466.0 L525.4 464.0 L525.3 462.0 L525.3 460.0 L525.1 458.0 L525.0 456.0 L524.9 454.0 L524.8 452.0 L524.7 450.0 L524.6 448.0 L524.4 446.0 L524.3 444.0 L524.1 442.0 L524.0 440.0 L523.8 438.0 L523.6 436.0 L523.4 434.0 L523.3 432.0 L523.1 430.0 L522.9 428.0 L522.7 426.0 L522.4 424.0 L522.2 422.0 L522.0 420.0 L521.7 418.0 L521.5 416.0 L521.2 414.0 L520.9 412.0 L520.6 410.0 L520.3 408.0 L520.0 406.0 L519.7 404.0 L519.3 402.0 L519.0 400.0 L518.6 398.0 L518.2 396.0 L517.8 394.0 L517.4 392.0 L517.0 390.0 L516.5 388.0 L516.0 386.0 L515.5 384.0 L515.0 382.0 L514.5 380.0 L514.0 378.0 L513.4 376.0 L512.8 374.0 L512.2 372.0 L511.6 370.0 L511.0 368.0 L510.4 366.0 L509.7 364.0 L509.0 362.0 L508.3 360.0 L507.6 358.0 L506.9 356.0 L506.2 354.0 L505.4 352.0 L504.6 350.0 L503.8 348.0 L502.9 346.0 L501.9 344.0 L500.9 342.0 L499.8 340.0 L498.6 338.0 L497.3 336.0 L495.9 334.0 L494.3 332.0 L492.6 330.0 L490.8 328.0 L488.7 326.0 L486.5 324.0 L484.1 322.0 L481.5 320.0 L478.8 318.0 L476.0 316.0 L473.1 314.0 L470.2 312.0 L467.2 310.0 L464.1 308.0 L461.1 306.0 L457.9 304.0 L454.8 302.0 L451.5 300.0 L448.3 298.0 L445.0 296.0 L441.7 294.0 L438.3 292.0 L435.0 290.0 L431.6 288.0 L428.2 286.0 L424.8 284.0 L421.4 282.0 L418.3 280.0 L415.3 278.0 L412.3 276.0 L409.3 274.0 L406.4 272.0 L403.5 270.0 L400.6 268.0 L397.7 266.0 L394.9 264.0 L392.1 262.0 L389.4 260.0 L386.6 258.0 L384.0 256.0 L381.3 254.0 L378.7 252.0 L376.2 250.0 L373.7 248.0 L371.2 246.0 L368.8 244.0 L366.5 242.0 L364.2 240.0 L362.0 238.0 L359.8 236.0 L357.8 234.0 L355.7 232.0 L353.8 230.0 L351.9 228.0 L350.1 226.0 L348.4 224.0 L346.7 222.0 L345.1 220.0 L343.6 218.0 L342.1 216.0 L340.8 214.0 L339.5 212.0 L338.2 210.0 L337.0 208.0 L335.9 206.0 L334.8 204.0 L333.8 202.0 L332.9 200.0 L332.0 198.0 L331.1 196.0 L330.3 194.0 L329.6 192.0 L328.8 190.0 L328.2 188.0 L327.5 186.0 L326.9 184.0 L326.4 182.0 L325.8 180.0 L325.3 178.0 L324.9 176.0 L324.4 174.0 L324.0 172.0 L323.7 170.0 L323.3 168.0 L323.0 166.0 L322.7 164.0 L322.4 162.0 L322.2 160.0 L321.9 158.0 L321.7 156.0 L321.5 154.0 L321.3 152.0 L321.2 150.0 L321.0 148.0 L320.9 146.0 L320.8 144.0 L320.6 142.0 L320.6 140.0 L320.5 138.0 L320.4 136.0 L320.3 134.0 L320.3 132.0 L320.2 130.0 L320.2 128.0 L320.1 126.0 L320.1 124.0 L320.1 122.0 L320.1 120.0 L320.1 118.0 L320.1 116.0 L320.0 114.0 L320.0 112.0 L320.0 110.0 L320.0 108.0 L320.0 106.0 L320.0 104.0 L320.0 102.0 L320.0 100.0 L320.0 98.0 L320.0 96.0 L320.0 94.0 L320.0 92.0 L319.9 90.0 L319.9 88.0 L319.9 86.0 L319.9 84.0 L319.8 82.0 L319.8 80.0 L319.7 78.0 L319.7 76.0 L319.6 74.0 L319.5 72.0 L319.5 70.0 L319.5 68.0 L319.5 66.0 L319.5 64.0 L319.5 62.0 L319.6 60.0 Z" fill="#00c0ff"/><path d="M247.7 60.0 L247.7 62.0 L247.7 64.0 L247.6 66.0 L247.6 68.0 L247.6 70.0 L247.6 72.0 L247.7 74.0 L247.8 76.0 L247.9 78.0 L248.0 80.0 L248.0 82.0 L248.1 84.0 L248.2 86.0 L248.3 88.0 L248.4 90.0 L248.5 92.0 L248.6 94.0 L248.7 96.0 L248.7 98.0 L248.8 100.0 L248.9 102.0 L249.0 104.0 L249.1 106.0 L249.2 108.0 L249.3 110.0 L249.4 112.0 L249.5 114.0 L249.6 116.0 L249.8 118.0 L249.9 120.0 L250.0 122.0 L250.1 124.0 L250.3 126.0 L250.4 128.0 L250.6 130.0 L250.7 132.0 L250.9 134.0 L251.0 136.0 L251.2 138.0 L251.4 140.0 L251.6 142.0 L251.8 144.0 L252.0 146.0 L252.2 148.0 L252.4 150.0 L252.7 152.0 L252.9 154.0 L253.2 156.0 L253.5 158.0 L253.8 160.0 L254.1 162.0 L254.4 164.0 L254.8 166.0 L255.1 168.0 L255.5 170.0 L255.9 172.0 L256.3 174.0 L256.8 176.0 L257.2 178.0 L257.7 180.0 L258.2 182.0 L258.8 184.0 L259.4 186.0 L260.0 188.0 L260.6 190.0 L261.3 192.0 L261.9 194.0 L262.7 196.0 L263.4 198.0 L264.3 200.0 L265.1 202.0 L266.0 204.0 L266.9 206.0 L267.9 208.0 L269.0 210.0 L270.0 212.0 L271.2 214.0 L272.4 216.0 L273.6 218.0 L274.9 220.0 L276.3 222.0 L277.8 224.0 L279.3 226.0 L280.8 228.0 L282.5 230.0 L284.2 232.0 L286.0 234.0 L287.9 236.0 L289.9 238.0 L291.9 240.0 L294.0 242.0 L296.2 244.0 L298.5 246.0 L300.9 248.0 L303.3 250.0 L305.9 252.0 L308.5 254.0 L311.2 256.0 L313.9 258.0 L316.8 260.0 L319.7 262.0 L322.6 264.0 L325.6 266.0 L328.7 268.0 L331.8 270.0 L335.0 272.0 L338.2 274.0 L341.4 276.0 L344.6 278.0 L347.9 280.0 L351.3 282.0 L354.8 284.0 L358.4 286.0 L361.9 288.0 L365.4 290.0 L368.8 292.0 L372.2 294.0 L375.5 296.0 L378.7 298.0 L381.9 300.0 L384.9 302.0 L387.9 304.0 L390.8 306.0 L393.7 308.0 L396.4 310.0 L399.1 312.0 L401.6 314.0 L404.1 316.0 L406.5 318.0 L408.8 320.0 L411.0 322.0 L413.1 324.0 L415.2 326.0 L417.1 328.0 L419.0 330.0 L420.8 332.0 L422.5 334.0 L424.1 336.0 L425.7 338.0 L427.2 340.0 L428.6 342.0 L429.9 344.0 L431.2 346.0 L432.5 348.0 L433.6 350.0 L434.7 352.0 L435.7 354.0 L436.7 356.0 L437.6 358.0 L438.5 360.0 L439.3 362.0 L440.1 364.0 L440.8 366.0 L441.5 368.0 L442.1 370.0 L442.7 372.0 L443.2 374.0 L443.7 376.0 L444.2 378.0 L444.7 380.0 L445.1 382.0 L445.4 384.0 L445.8 386.0 L446.1 388.0 L446.4 390.0 L446.7 392.0 L446.9 394.0 L447.2 396.0 L447.4 398.0 L447.6 400.0 L447.7 402.0 L447.9 404.0 L448.0 406.0 L448.2 408.0 L448.3 410.0 L448.4 412.0 L448.5 414.0 L448.6 416.0 L448.7 418.0 L448.7 420.0 L448.8 422.0 L448.8 424.0 L448.9 426.0 L448.9 428.0 L449.0 430.0 L449.0 432.0 L449.1 434.0 L449.1 436.0 L449.1 438.0 L449.2 440.0 L449.2 442.0 L449.3 444.0 L449.3 446.0 L449.3 448.0 L449.4 450.0 L449.5 452.0 L449.5 454.0 L449.6 456.0 L449.7 458.0 L449.7 460.0 L449.8 462.0 L449.9 464.0 L450.0 466.0 L450.1 468.0 L450.3 470.0 L450.4 472.0 L450.5 474.0 L450.7 476.0 L450.9 478.0 L451.1 480.0 L451.3 482.0 L451.5 484.0 L451.7 486.0 L451.9 488.0 L452.2 490.0 L452.5 492.0 L452.4 494.0 L452.4 496.0 L452.4 498.0 L452.3 500.0 L452.3 502.0 L452.3 504.0 L516.2 504.0 L516.3 502.0 L516.3 500.0 L516.3 498.0 L516.3 496.0 L516.3 494.0 L516.3 492.0 L516.3 490.0 L516.2 488.0 L516.1 486.0 L516.0 484.0 L515.9 482.0 L515.8 480.0 L515.6 478.0 L515.5 476.0 L515.4 474.0 L515.2 472.0 L515.1 470.0 L514.9 468.0 L514.8 466.0 L514.6 464.0 L514.4 462.0 L514.2 460.0 L514.1 458.0 L513.9 456.0 L513.7 454.0 L513.5 452.0 L513.3 450.0 L513.1 448.0 L512.9 446.0 L512.7 444.0 L512.4 442.0 L512.2 440.0 L512.0 438.0 L511.8 436.0 L511.6 434.0 L511.3 432.0 L511.1 430.0 L510.9 428.0 L510.6 426.0 L510.4 424.0 L510.2 422.0 L509.9 420.0 L509.7 418.0 L509.5 416.0 L509.2 414.0 L509.0 412.0 L508.7 410.0 L508.5 408.0 L508.2 406.0 L508.0 404.0 L507.7 402.0 L507.4 400.0 L507.2 398.0 L506.9 396.0 L506.6 394.0 L506.3 392.0 L506.1 390.0 L505.8 388.0 L505.5 386.0 L505.2 384.0 L504.9 382.0 L504.6 380.0 L504.2 378.0 L503.9 376.0 L503.5 374.0 L503.2 372.0 L502.8 370.0 L502.4 368.0 L502.0 366.0 L501.6 364.0 L501.1 362.0 L500.7 360.0 L500.2 358.0 L499.7 356.0 L499.1 354.0 L498.5 352.0 L497.8 350.0 L497.1 348.0 L496.3 346.0 L495.4 344.0 L494.4 342.0 L493.4 340.0 L492.2 338.0 L490.9 336.0 L489.4 334.0 L487.9 332.0 L486.1 330.0 L484.3 328.0 L482.2 326.0 L480.0 324.0 L477.6 322.0 L475.0 320.0 L472.3 318.0 L469.4 316.0 L466.4 314.0 L463.3 312.0 L460.0 310.0 L456.6 308.0 L453.2 306.0 L449.6 304.0 L446.0 302.0 L442.3 300.0 L438.7 298.0 L434.9 296.0 L431.2 294.0 L427.6 292.0 L423.9 290.0 L420.4 288.0 L416.9 286.0 L413.4 284.0 L410.0 282.0 L407.0 280.0 L404.6 278.0 L402.2 276.0 L399.7 274.0 L397.1 272.0 L394.5 270.0 L391.7 268.0 L388.9 266.0 L386.0 264.0 L383.0 262.0 L380.0 260.0 L377.1 258.0 L374.1 256.0 L371.2 254.0 L368.3 252.0 L365.5 250.0 L362.8 248.0 L360.2 246.0 L357.6 244.0 L355.2 242.0 L352.9 240.0 L350.6 238.0 L348.4 236.0 L346.4 234.0 L344.4 232.0 L342.5 230.0 L340.6 228.0 L338.9 226.0 L337.2 224.0 L335.6 222.0 L334.1 220.0 L332.7 218.0 L331.3 216.0 L330.0 214.0 L328.7 212.0 L327.5 210.0 L326.4 208.0 L325.3 206.0 L324.2 204.0 L323.2 202.0 L322.3 200.0 L321.4 198.0 L320.6 196.0 L319.7 194.0 L319.0 192.0 L318.2 190.0 L317.5 188.0 L316.9 186.0 L316.2 184.0 L315.6 182.0 L315.1 180.0 L314.5 178.0 L314.0 176.0 L313.5 174.0 L313.1 172.0 L312.7 170.0 L312.2 168.0 L311.9 166.0 L311.5 164.0 L311.1 162.0 L310.8 160.0 L310.5 158.0 L310.2 156.0 L309.9 154.0 L309.7 152.0 L309.4 150.0 L309.2 148.0 L309.0 146.0 L308.8 144.0 L308.6 142.0 L308.4 140.0 L308.3 138.0 L308.1 136.0 L307.9 134.0 L307.8 132.0 L307.7 130.0 L307.6 128.0 L307.4 126.0 L307.3 124.0 L307.2 122.0 L307.1 120.0 L307.1 118.0 L307.0 116.0 L306.9 114.0 L306.8 112.0 L306.8 110.0 L306.7 108.0 L306.6 106.0 L306.6 104.0 L306.5 102.0 L306.5 100.0 L306.4 98.0 L306.4 96.0 L306.3 94.0 L306.3 92.0 L306.2 90.0 L306.2 88.0 L306.1 86.0 L306.1 84.0 L306.0 82.0 L306.0 80.0 L305.9 78.0 L305.9 76.0 L305.8 74.0 L305.7 72.0 L305.7 70.0 L305.7 68.0 L305.6 66.0 L305.6 64.0 L305.6 62.0 L305.5 60.0 Z" fill="#49ffad"/></g><g mask="url(#ymask)"><g clip-path="url(#yc0)"><rect x="150" y="72" width="396" height="420" filter="url(#nY)"/></g><g clip-path="url(#yc1)"><rect x="150" y="72" width="396" height="420" filter="url(#nY2)"/></g><g clip-path="url(#yc2)"><rect x="150" y="72" width="396" height="420" filter="url(#nY3)"/></g></g><line x1="170.5" y1="72" x2="176.3" y2="492" stroke="#00c0ff" stroke-width="1.1" opacity="0.90"/><line x1="198.4" y1="72" x2="203.8" y2="492" stroke="#00c0ff" stroke-width="1.1" opacity="0.95"/><line x1="231.7" y1="72" x2="237.4" y2="492" stroke="#40f0d0" stroke-width="1.4" opacity="1.00"/><line x1="497.2" y1="72" x2="501.0" y2="492" stroke="#00c0ff" stroke-width="1.1" opacity="0.90"/><path d="M150.9 280 L151.6 492" stroke="url(#lg0)" stroke-width="1.6" fill="none"/><path d="M306.4 89.0 L306.4 90.0 L306.4 91.0 L306.4 92.0 L306.4 93.0 L306.4 94.0 L306.5 95.0 L306.5 96.0 L306.5 97.0 L306.5 98.0 L306.5 99.0 L306.5 100.0 L306.5 101.0 L306.6 102.0 L306.6 103.0 L306.6 104.0 L306.6 105.0 L306.6 106.0 L306.6 107.0 L306.7 108.0 L306.7 109.0 L306.7 110.0 L306.7 111.0 L306.7 112.0 L306.8 113.0 L306.8 114.0 L306.8 115.0 L306.8 116.0 L306.9 117.0 L306.9 118.0 L306.9 119.0 L306.9 120.0 L306.9 121.0 L307.0 122.0 L307.0 123.0 L307.0 124.0 L307.0 125.0 L307.1 126.0 L307.1 127.0 L307.1 128.0 L307.2 129.0 L307.2 130.0 L307.2 131.0 L307.2 132.0 L307.3 133.0 L307.3 134.0 L307.3 135.0 L307.4 136.0 L307.4 137.0 L307.4 138.0 L307.5 139.0 L307.5 140.0 L307.6 141.0 L307.6 142.0 L307.6 143.0 L307.7 144.0 L307.7 145.0 L307.8 146.0 L307.8 147.0 L307.8 148.0 L307.9 149.0 L307.9 150.0 L308.0 151.0 L308.0 152.0 L308.1 153.0 L308.1 154.0 L308.2 155.0 L308.2 156.0 L308.3 157.0 L308.4 158.0 L308.4 159.0 L308.5 160.0 L308.5 161.0 L308.6 162.0 L308.7 163.0 L308.7 164.0 L308.8 165.0 L308.9 166.0 L308.9 167.0 L309.0 168.0 L309.1 169.0 L309.2 170.0 L309.2 171.0 L309.3 172.0 L309.4 173.0 L309.5 174.0 L309.6 175.0 L309.7 176.0 L309.7 177.0 L309.8 178.0 L309.9 179.0 L310.0 180.0 L310.1 181.0 L310.2 182.0 L310.4 183.0 L310.5 184.0 L310.6 185.0 L310.7 186.0 L310.8 187.0 L310.9 188.0 L311.1 189.0 L311.2 190.0 L311.3 191.0 L311.5 192.0 L311.6 193.0 L311.8 194.0 L311.9 195.0 L312.1 196.0 L312.3 197.0 L312.4 198.0 L312.6 199.0 L312.8 200.0 L313.0 201.0 L313.2 202.0 L313.4 203.0 L313.6 204.0 L313.8 205.0 L314.0 206.0 L314.2 207.0 L314.4 208.0 L314.7 209.0 L314.9 210.0 L315.2 211.0 L315.4 212.0 L315.7 213.0 L316.0 214.0 L316.3 215.0 L316.6 216.0 L316.9 217.0 L317.2 218.0 L317.5 219.0 L317.9 220.0 L318.3 221.0 L318.6 222.0 L319.0 223.0 L319.4 224.0 L319.8 225.0 L320.2 226.0 L320.7 227.0 L321.1 228.0 L321.6 229.0 L322.1 230.0 L322.6 231.0 L323.2 232.0 L323.7 233.0 L324.3 234.0 L324.9 235.0 L325.5 236.0 L326.2 237.0 L326.8 238.0 L327.5 239.0 L328.2 240.0 L329.0 241.0 L329.8 242.0 L330.6 243.0 L331.4 244.0 L332.3 245.0 L333.2 246.0 L334.2 247.0 L335.1 248.0 L336.2 249.0 L337.2 250.0 L338.3 251.0 L339.5 252.0 L340.7 253.0 L341.9 254.0 L343.2 255.0 L344.5 256.0 L345.9 257.0 L347.3 258.0 L348.8 259.0 L350.4 260.0 L352.0 261.0 L353.6 262.0 L355.3 263.0 L357.1 264.0 L358.9 265.0 L360.8 266.0 L362.7 267.0 L364.7 268.0 L366.7 269.0 L368.8 270.0 L371.0 271.0 L373.2 272.0 L375.4 273.0 L377.7 274.0 L380.1 275.0 L382.5 276.0 L384.9 277.0 L387.3 278.0 L389.8 279.0 L392.3 280.0 L394.9 281.0 L397.4 282.0 L400.0 283.0 L402.6 284.0 L405.2 285.0 L408.0 286.0 L410.7 287.0 L413.4 288.0 L416.1 289.0 L418.8 290.0 L421.4 291.0 L424.0 292.0 L426.6 293.0 L429.1 294.0 L431.6 295.0 L434.0 296.0 L436.3 297.0 L438.6 298.0 L440.9 299.0 L443.1 300.0 L445.2 301.0 L447.3 302.0 L449.3 303.0 L451.2 304.0 L453.1 305.0 L454.9 306.0 L456.6 307.0 L458.3 308.0 L459.9 309.0 L461.5 310.0 L463.0 311.0 L464.4 312.0 L465.8 313.0 L467.2 314.0 L468.4 315.0 L469.7 316.0 L470.9 317.0 L472.0 318.0 L473.1 319.0 L474.1 320.0 L475.1 321.0 L476.1 322.0 L477.0 323.0 L477.9 324.0 L478.8 325.0 L479.6 326.0 L480.4 327.0 L481.2 328.0 L481.9 329.0 L482.6 330.0 L483.3 331.0 L483.9 332.0 L484.5 333.0 L485.1 334.0 L485.7 335.0 L486.2 336.0 L486.8 337.0 L487.3 338.0 L487.8 339.0 L488.2 340.0 L488.7 341.0 L489.1 342.0 L489.5 343.0 L489.9 344.0 L490.3 345.0 L490.7 346.0 L491.1 347.0 L491.4 348.0 L491.8 349.0 L492.1 350.0 L492.4 351.0 L492.7 352.0 L493.0 353.0 L493.3 354.0 L493.5 355.0 L493.8 356.0 L494.0 357.0 L494.3 358.0 L494.5 359.0 L494.8 360.0 L495.0 361.0 L495.2 362.0 L495.4 363.0 L495.6 364.0 L495.8 365.0 L496.0 366.0 L496.2 367.0 L496.3 368.0 L496.5 369.0 L496.7 370.0 L496.8 371.0 L497.0 372.0 L497.1 373.0 L497.3 374.0 L497.4 375.0 L497.6 376.0 L497.7 377.0 L497.8 378.0 L498.0 379.0 L498.1 380.0 L498.2 381.0 L498.3 382.0 L498.4 383.0 L498.5 384.0 L498.6 385.0 L498.7 386.0 L498.8 387.0 L498.9 388.0 L499.0 389.0 L499.1 390.0 L499.2 391.0 L499.3 392.0 L499.4 393.0 L499.5 394.0 L499.5 395.0 L499.6 396.0 L499.7 397.0 L499.8 398.0 L499.8 399.0 L499.9 400.0 L500.0 401.0 L500.1 402.0 L500.1 403.0 L500.2 404.0 L500.2 405.0 L500.3 406.0 L500.4 407.0 L500.4 408.0 L500.5 409.0 L500.5 410.0 L500.6 411.0 L500.6 412.0 L500.7 413.0 L500.7 414.0 L500.8 415.0 L500.8 416.0 L500.9 417.0 L500.9 418.0 L501.0 419.0 L501.0 420.0 L501.1 421.0 L501.1 422.0 L501.1 423.0 L501.2 424.0 L501.2 425.0 L501.2 426.0 L501.3 427.0 L501.3 428.0 L501.4 429.0 L501.4 430.0 L501.4 431.0 L501.5 432.0 L501.5 433.0 L501.5 434.0 L501.5 435.0 L501.6 436.0 L501.6 437.0 L501.6 438.0 L501.7 439.0 L501.7 440.0 L501.7 441.0 L501.7 442.0 L501.8 443.0 L501.8 444.0 L501.8 445.0 L501.8 446.0 L501.9 447.0 L501.9 448.0 L501.9 449.0 L501.9 450.0 L502.0 451.0 L502.0 452.0 L502.0 453.0 L502.0 454.0 L502.0 455.0 L502.1 456.0 L502.1 457.0 L502.1 458.0 L502.1 459.0 L502.1 460.0 L502.2 461.0 L502.2 462.0 L502.2 463.0 L502.2 464.0 L502.2 465.0 L502.3 466.0 L502.3 467.0 L502.3 468.0 L502.3 469.0 L502.3 470.0 L502.3 471.0 L502.4 472.0 L502.4 473.0 L502.4 474.0 L502.4 475.0 L502.4 476.0 L502.4 477.0 L502.4 478.0 L502.5 479.0 L502.5 480.0 L502.5 481.0 L502.5 482.0 L502.5 483.0 L502.5 484.0 L502.5 485.0 L502.6 486.0 L502.6 487.0 L502.6 488.0 L502.6 489.0 L502.6 490.0 L502.6 491.0 L502.6 492.0" fill="none" stroke="#fff" stroke-width="1.9"/><path d="M304.2 89.5h4.4M304.3 95.1h4.4M304.3 100.7h4.4M304.4 106.3h4.4M304.5 111.9h4.4M304.7 117.5h4.4M304.8 123.1h4.4M305.0 128.7h4.4M305.1 134.3h4.4M305.3 139.9h4.4M305.5 145.5h4.4M305.8 151.1h4.4M306.1 156.7h4.4M306.4 162.3h4.4M306.8 167.9h4.4M307.2 173.5h4.4M307.7 179.1h4.4M308.3 184.7h4.4M309.1 190.3h4.4M309.9 195.9h4.4M310.9 201.5h4.4M312.0 207.1h4.4M313.4 212.7h4.4M315.1 218.3h4.4M317.2 223.9h4.4M319.7 229.5h4.4M322.8 235.1h4.4M326.6 240.7h4.4M331.3 246.3h4.4M337.2 251.9h4.4M344.4 257.5h4.4M353.3 263.1h4.4M363.9 268.7h4.4M376.2 274.3h4.4M389.9 279.9h4.4M404.4 285.5h4.4M419.5 291.1h4.4M433.4 296.7h4.4M445.7 302.3h4.4M455.9 307.9h4.4M464.3 313.5h4.4M471.0 319.1h4.4M476.3 324.7h4.4M480.6 330.3h4.4M484.0 335.9h4.4M486.7 341.5h4.4M488.9 347.1h4.4M490.7 352.7h4.4M492.2 358.3h4.4M493.4 363.9h4.4M494.4 369.5h4.4M495.2 375.1h4.4M496.0 380.7h4.4M496.6 386.3h4.4M497.1 391.9h4.4M497.5 397.5h4.4M497.9 403.1h4.4M498.3 408.7h4.4M498.6 414.3h4.4M498.8 419.9h4.4M499.0 425.5h4.4M499.2 431.1h4.4M499.4 436.7h4.4M499.6 442.3h4.4M499.7 447.9h4.4M499.8 453.5h4.4M499.9 459.1h4.4M500.0 464.7h4.4M500.1 470.3h4.4M500.2 475.9h4.4M500.3 481.5h4.4M500.4 487.1h4.4" stroke="#fff" stroke-width="1" fill="none"/></g>
<rect x="100.5" y="60.5" width="496" height="480" fill="none" stroke="#000" stroke-width="1"/><line x1="100.5" y1="540" x2="100.5" y2="534.2" stroke="#000" stroke-width="0.9"/><line x1="100.5" y1="60" x2="100.5" y2="65.8" stroke="#000" stroke-width="0.9"/><line x1="162.5" y1="540" x2="162.5" y2="534.2" stroke="#000" stroke-width="0.9"/><line x1="162.5" y1="60" x2="162.5" y2="65.8" stroke="#000" stroke-width="0.9"/><line x1="224.5" y1="540" x2="224.5" y2="534.2" stroke="#000" stroke-width="0.9"/><line x1="224.5" y1="60" x2="224.5" y2="65.8" stroke="#000" stroke-width="0.9"/><line x1="286.5" y1="540" x2="286.5" y2="534.2" stroke="#000" stroke-width="0.9"/><line x1="286.5" y1="60" x2="286.5" y2="65.8" stroke="#000" stroke-width="0.9"/><line x1="348.5" y1="540" x2="348.5" y2="534.2" stroke="#000" stroke-width="0.9"/><line x1="348.5" y1="60" x2="348.5" y2="65.8" stroke="#000" stroke-width="0.9"/><line x1="410.5" y1="540" x2="410.5" y2="534.2" stroke="#000" stroke-width="0.9"/><line x1="410.5" y1="60" x2="410.5" y2="65.8" stroke="#000" stroke-width="0.9"/><line x1="472.5" y1="540" x2="472.5" y2="534.2" stroke="#000" stroke-width="0.9"/><line x1="472.5" y1="60" x2="472.5" y2="65.8" stroke="#000" stroke-width="0.9"/><line x1="534.5" y1="540" x2="534.5" y2="534.2" stroke="#000" stroke-width="0.9"/><line x1="534.5" y1="60" x2="534.5" y2="65.8" stroke="#000" stroke-width="0.9"/><line x1="596.5" y1="540" x2="596.5" y2="534.2" stroke="#000" stroke-width="0.9"/><line x1="596.5" y1="60" x2="596.5" y2="65.8" stroke="#000" stroke-width="0.9"/><line x1="100" y1="492.5" x2="105.8" y2="492.5" stroke="#000" stroke-width="0.9"/><line x1="596" y1="492.5" x2="590.2" y2="492.5" stroke="#000" stroke-width="0.9"/><line x1="100" y1="396.5" x2="105.8" y2="396.5" stroke="#000" stroke-width="0.9"/><line x1="596" y1="396.5" x2="590.2" y2="396.5" stroke="#000" stroke-width="0.9"/><line x1="100" y1="300.5" x2="105.8" y2="300.5" stroke="#000" stroke-width="0.9"/><line x1="596" y1="300.5" x2="590.2" y2="300.5" stroke="#000" stroke-width="0.9"/><line x1="100" y1="204.5" x2="105.8" y2="204.5" stroke="#000" stroke-width="0.9"/><line x1="596" y1="204.5" x2="590.2" y2="204.5" stroke="#000" stroke-width="0.9"/><line x1="100" y1="108.5" x2="105.8" y2="108.5" stroke="#000" stroke-width="0.9"/><line x1="596" y1="108.5" x2="590.2" y2="108.5" stroke="#000" stroke-width="0.9"/>
<rect x="627" y="481" width="25" height="59" fill="#0000c8"/><rect x="627" y="421" width="25" height="60" fill="#0040ff"/><rect x="627" y="361" width="25" height="60" fill="#00c0ff"/><rect x="627" y="301" width="25" height="60" fill="#49ffad"/><rect x="627" y="241" width="25" height="60" fill="#b1ff46"/><rect x="627" y="181" width="25" height="60" fill="#ffd000"/><rect x="627" y="121" width="25" height="60" fill="#ff5900"/><rect x="627" y="60" width="25" height="61" fill="#c40000"/><rect x="627.5" y="60.5" width="24" height="480" fill="none" stroke="#000" stroke-width="1"/><line x1="645.2" y1="480.5" x2="652" y2="480.5" stroke="#000" stroke-width="1"/><line x1="645.2" y1="420.5" x2="652" y2="420.5" stroke="#000" stroke-width="1"/><line x1="645.2" y1="360.5" x2="652" y2="360.5" stroke="#000" stroke-width="1"/><line x1="645.2" y1="300.5" x2="652" y2="300.5" stroke="#000" stroke-width="1"/><line x1="645.2" y1="240.5" x2="652" y2="240.5" stroke="#000" stroke-width="1"/><line x1="645.2" y1="180.5" x2="652" y2="180.5" stroke="#000" stroke-width="1"/><line x1="645.2" y1="120.5" x2="652" y2="120.5" stroke="#000" stroke-width="1"/>
<g font-family="Liberation Sans, sans-serif" fill="#000" opacity="0.999"><text transform="translate(102.04,47.80) scale(0.9878,1)" x="0.26 18.18 30.85 37.02 44.43 50.40 62.90 68.53 74.20 86.69 98.90 105.01 117.30 130.90 145.99 152.48 160.84 173.99 186.77 199.78 212.63 225.51 238.30 251.28 262.83 274.28 287.16 299.97 312.93 325.72 338.69 350.24 360.95 375.12 389.34 404.04 418.70 432.84 443.14 453.80 466.22 480.32 497.27" y="0" font-size="20.35">Multiplied PSD (20130418_045814_RADCAL_TRO)</text><rect x="67.72" y="550.68" width="10.43" height="1.38"/><text transform="translate(65.96,556.60) scale(1.0144,1)" x="13.99 24.66 35.11 45.57 56.02" y="0" font-size="17.20">20000</text><rect x="129.72" y="550.68" width="10.43" height="1.38"/><text transform="translate(127.96,556.60) scale(1.0014,1)" x="14.37 24.98 35.63 46.22 56.81" y="0" font-size="17.20">15000</text><rect x="191.72" y="550.68" width="10.43" height="1.38"/><text transform="translate(189.96,556.60) scale(1.0130,1)" x="14.15 24.70 35.17 45.64 56.10" y="0" font-size="17.20">10000</text><rect x="259.03" y="550.68" width="10.43" height="1.38"/><text transform="translate(257.26,556.60) scale(1.0072,1)" x="14.28 24.87 35.40 45.93" y="0" font-size="17.20">5000</text><text transform="translate(342.15,556.60) scale(1.0215,1)" x="0.40" y="0" font-size="17.20">0</text><text transform="translate(388.24,556.60) scale(1.0072,1)" x="0.41 11.01 21.53 32.06" y="0" font-size="17.20">5000</text><text transform="translate(444.94,556.60) scale(1.0130,1)" x="0.36 10.91 21.38 31.85 42.32" y="0" font-size="17.20">10000</text><text transform="translate(506.94,556.60) scale(1.0014,1)" x="0.42 11.03 21.69 32.28 42.87" y="0" font-size="17.20">15000</text><text transform="translate(568.94,556.60) scale(1.0144,1)" x="0.22 10.89 21.35 31.80 42.26" y="0" font-size="17.20">20000</text><text transform="translate(83.40,497.65) scale(1.0215,1)" x="0.40" y="0" font-size="17.20">0</text><text transform="translate(62.19,401.65) scale(1.0096,1)" x="0.25 10.97 21.47" y="0" font-size="17.20">200</text><text transform="translate(62.19,305.65) scale(1.0215,1)" x="0.40 10.78 21.16" y="0" font-size="17.20">400</text><text transform="translate(62.19,209.65) scale(1.0331,1)" x="0.35 10.61 20.87" y="0" font-size="17.20">600</text><text transform="translate(62.19,113.65) scale(1.0251,1)" x="0.39 10.73 21.07" y="0" font-size="17.20">800</text><text transform="translate(654.50,545.70) scale(1.0215,1)" x="0.40" y="0" font-size="17.20">0</text><text transform="translate(654.50,485.70) scale(1.0035,1)" x="0.28 11.06" y="0" font-size="17.20">20</text><text transform="translate(654.50,425.70) scale(1.0215,1)" x="0.40 10.78" y="0" font-size="17.20">40</text><text transform="translate(654.50,365.70) scale(1.0390,1)" x="0.32 10.52" y="0" font-size="17.20">60</text><text transform="translate(654.50,305.70) scale(1.0270,1)" x="0.38 10.70" y="0" font-size="17.20">80</text><text transform="translate(654.50,245.70) scale(1.0072,1)" x="0.39 11.01 21.53" y="0" font-size="17.20">100</text><text transform="translate(654.50,185.70) scale(0.9947,1)" x="0.46 10.98 21.87" y="0" font-size="17.20">120</text><text transform="translate(654.50,125.70) scale(1.0075,1)" x="0.39 11.00 21.53" y="0" font-size="17.20">140</text><text transform="translate(654.50,65.70) scale(1.0191,1)" x="0.33 10.82 21.23" y="0" font-size="17.20">160</text><text transform="translate(287.50,575.85) scale(1.0402,1)" x="0.66 6.41 12.46 22.35 32.57 42.65 52.65 62.39 71.72 80.72 85.67 91.94 104.14 113.24" y="0" font-size="17.00">frequency (Hz)</text><text transform="translate(54.00,332.00) rotate(-90) scale(1.0291,1)" x="0.77 6.72 11.70 26.91 36.59 41.64 48.14 57.26" y="0" font-size="17.00">time (s)</text></g>
</svg>
</body></html>
